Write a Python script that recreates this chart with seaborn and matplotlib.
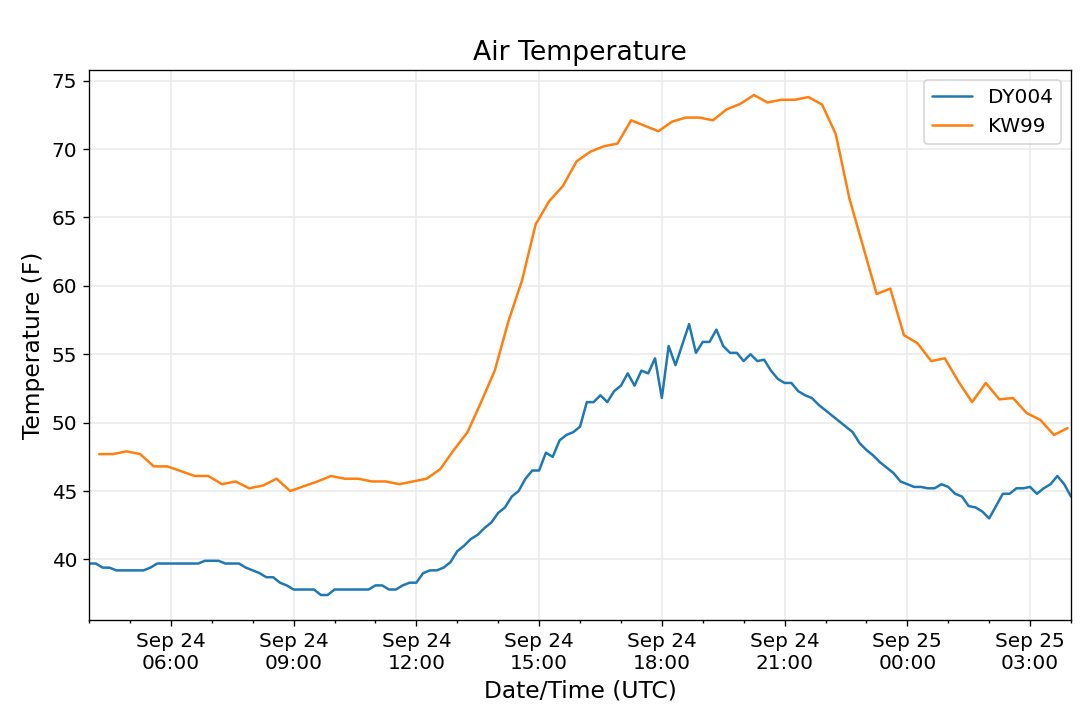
import matplotlib
matplotlib.use('Agg')

import matplotlib.dates as mdates
import matplotlib.pyplot as plt
import numpy as np
import pandas as pd
import seaborn as sns

# DY004: 10 minute readings, Sep 24 04:00 -> Sep 25 04:00 (UTC)
dy004_temp = [
    39.7, 39.7, 39.4, 39.4, 39.2, 39.2, 39.2, 39.2, 39.2, 39.4,
    39.7, 39.7, 39.7, 39.7, 39.7, 39.7, 39.7, 39.9, 39.9, 39.9,
    39.7, 39.7, 39.7, 39.4, 39.2, 39.0, 38.7, 38.7, 38.3, 38.1,
    37.8, 37.8, 37.8, 37.8, 37.4, 37.4, 37.8, 37.8, 37.8, 37.8,
    37.8, 37.8, 38.1, 38.1, 37.8, 37.8, 38.1, 38.3, 38.3, 39.0,
    39.2, 39.2, 39.4, 39.8, 40.6, 41.0, 41.5, 41.8, 42.3, 42.7,
    43.4, 43.8, 44.6, 45.0, 45.9, 46.5, 46.5, 47.8, 47.5, 48.7,
    49.1, 49.3, 49.7, 51.5, 51.5, 52.0, 51.5, 52.3, 52.7, 53.6,
    52.7, 53.8, 53.6, 54.7, 51.8, 55.6, 54.2, 55.7, 57.2, 55.1,
    55.9, 55.9, 56.8, 55.6, 55.1, 55.1, 54.5, 55.0, 54.5, 54.6,
    53.8, 53.2, 52.9, 52.9, 52.3, 52.0, 51.8, 51.3, 50.9, 50.5,
    50.1, 49.7, 49.3, 48.5, 48.0, 47.6, 47.1, 46.7, 46.3, 45.7,
    45.5, 45.3, 45.3, 45.2, 45.2, 45.5, 45.3, 44.8, 44.6, 43.9,
    43.8, 43.5, 43.0, 43.9, 44.8, 44.8, 45.2, 45.2, 45.3, 44.8,
    45.2, 45.5, 46.1, 45.5, 44.6,
]
dy004_time = pd.date_range('2019-09-24 04:00', periods=len(dy004_temp), freq='10min')

# KW99: 20 minute readings, Sep 24 04:15 -> Sep 25 03:55 (UTC)
kw99_temp = [
    47.7, 47.7, 47.9, 47.7, 46.8, 46.8, 46.45, 46.1, 46.1, 45.5,
    45.7, 45.2, 45.4, 45.9, 45.0, 45.35, 45.7, 46.1, 45.9, 45.9,
    45.7, 45.7, 45.5, 45.7, 45.9, 46.6, 48.0, 49.3, 51.5, 53.8,
    57.4, 60.4, 64.5, 66.2, 67.3, 69.1, 69.8, 70.2, 70.4, 72.1,
    71.7, 71.3, 72.0, 72.3, 72.3, 72.1, 72.9, 73.3, 73.95, 73.4,
    73.6, 73.6, 73.8, 73.25, 71.1, 66.4, 62.9, 59.4, 59.8, 56.4,
    55.8, 54.5, 54.7, 53.0, 51.5, 52.9, 51.7, 51.8, 50.7, 50.2,
    49.1, 49.6,
]
kw99_time = pd.date_range('2019-09-24 04:15', periods=len(kw99_temp), freq='20min')

sns.set_style('ticks', {'axes.grid': True, 'grid.color': '#ebebeb',
                        'axes.edgecolor': 'black', 'text.color': 'black',
                        'axes.labelcolor': 'black', 'xtick.color': 'black',
                        'ytick.color': 'black'})
plt.rcParams['font.family'] = ['DejaVu Sans']

colors = sns.color_palette('tab10')

fig = plt.figure(figsize=(9, 712 / 120), dpi=120)
ax = fig.add_axes([89 / 1080, 1 - 620 / 712, (1071 - 89) / 1080, (620 - 70) / 712])

sns.lineplot(x=dy004_time, y=dy004_temp, ax=ax, color=colors[0], label='DY004', linewidth=1.5)
sns.lineplot(x=kw99_time, y=kw99_temp, ax=ax, color=colors[1], label='KW99', linewidth=1.5)

ax.set_xlim(dy004_time[0], dy004_time[-1])
ax.xaxis.set_major_locator(mdates.HourLocator(byhour=range(0, 24, 3)))
ax.xaxis.set_minor_locator(mdates.HourLocator())
ax.xaxis.set_major_formatter(mdates.DateFormatter('%b %d\n%H:%M'))
ax.tick_params(axis='both', which='major', labelsize=12, length=3.5, width=0.8,
               color='black', labelcolor='black')
ax.tick_params(axis='x', which='minor', length=2, width=0.8, color='black')
for lbl in ax.get_xticklabels():
    lbl.set_horizontalalignment('center')

ax.grid(True, which='major', color='#ebebeb', linewidth=1)
for side in ['top', 'right', 'left', 'bottom']:
    ax.spines[side].set_visible(True)
    ax.spines[side].set_linewidth(0.8)
    ax.spines[side].set_color('black')

ax.set_title('Air Temperature', fontsize=16, color='black')
ax.set_xlabel('Date/Time (UTC)', fontsize=14, color='black')
ax.set_ylabel('Temperature (F)', fontsize=14, color='black')
leg = ax.legend(loc='upper right', fontsize=12)
for txt in leg.get_texts():
    txt.set_color('black')

fig.savefig('out.png', dpi=120)
